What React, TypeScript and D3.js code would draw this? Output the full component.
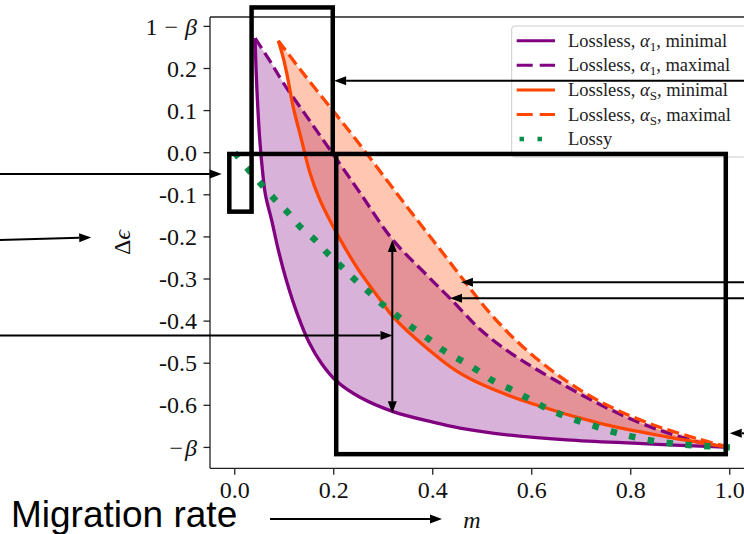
import React from "react";
import * as d3 from "d3";

// m (migration rate) vs Δϵ
const xTicks = [0, 0.2, 0.4, 0.6, 0.8, 1.0];
const yTicks = [0.3, 0.2, 0.1, 0.0, -0.1, -0.2, -0.3, -0.4, -0.5, -0.6, -0.7];

const alpha1Min: [number, number][] = [
  [0.041, 0.272], [0.043, 0.2], [0.046, 0.12], [0.05, 0.04], [0.055, -0.03],
  [0.062, -0.1], [0.0745, -0.16], [0.088, -0.231], [0.106, -0.31], [0.128, -0.388],
  [0.15, -0.45], [0.175, -0.5], [0.206, -0.543], [0.253, -0.581], [0.32, -0.615],
  [0.4, -0.64], [0.455, -0.654], [0.55, -0.67], [0.671, -0.682], [0.805, -0.69],
  [0.9, -0.695], [1.0, -0.7],
];
const alpha1Max: [number, number][] = [
  [0.041, 0.272], [0.07, 0.22], [0.098, 0.166], [0.146, 0.085], [0.193, 0.006],
  [0.25, -0.09], [0.318, -0.205], [0.389, -0.292], [0.435, -0.346], [0.496, -0.42],
  [0.549, -0.469], [0.603, -0.51], [0.671, -0.556], [0.738, -0.598], [0.805, -0.635],
  [0.873, -0.665], [0.94, -0.688], [1.0, -0.7],
];
const alphaSMin: [number, number][] = [
  [0.088, 0.266], [0.097, 0.23], [0.105, 0.189], [0.118, 0.109], [0.135, 0.03],
  [0.152, -0.048], [0.172, -0.112], [0.206, -0.191], [0.246, -0.271], [0.293, -0.348],
  [0.32, -0.39], [0.401, -0.477], [0.45, -0.52], [0.502, -0.552], [0.603, -0.597],
  [0.738, -0.643], [0.873, -0.675], [1.0, -0.7],
];
const alphaSMax: [number, number][] = [
  [0.088, 0.266], [0.132, 0.198], [0.186, 0.118], [0.239, 0.04], [0.307, -0.065],
  [0.36, -0.147], [0.415, -0.23], [0.462, -0.302], [0.509, -0.372], [0.563, -0.44],
  [0.617, -0.496], [0.671, -0.543], [0.724, -0.582], [0.785, -0.618], [0.859, -0.652],
  [0.94, -0.681], [1.0, -0.7],
];
const lossy: [number, number][] = [
  [0, 0], [0.031, -0.045], [0.055, -0.077], [0.081, -0.111], [0.108, -0.143],
  [0.132, -0.176], [0.162, -0.207], [0.189, -0.241], [0.216, -0.271], [0.243, -0.302],
  [0.273, -0.333], [0.3, -0.362], [0.331, -0.39], [0.361, -0.417], [0.395, -0.445],
  [0.421, -0.469], [0.455, -0.492], [0.489, -0.516], [0.522, -0.542], [0.556, -0.561],
  [0.59, -0.582], [0.623, -0.603], [0.657, -0.621], [0.694, -0.637], [0.732, -0.651],
  [0.768, -0.664], [0.805, -0.675], [0.843, -0.684], [0.88, -0.69], [0.916, -0.694],
  [0.954, -0.697], [1.0, -0.7],
];

// overlay annotations, in data coordinates: [m0, v0, m1, v1]
const boxes = [
  [0.034, 0.345, 0.198, -0.003],
  [-0.011, -0.003, 0.034, -0.14],
  [0.205, -0.003, 0.992, -0.716],
];
const arrows = [
  [-0.475, -0.0506, -0.0264, -0.0506],
  [-0.475, -0.2074, -0.29, -0.2014],
  [-0.475, -0.434, 0.3187, -0.434],
  [1.03, 0.171, 0.2008, 0.171],
  [1.03, -0.308, 0.457, -0.308],
  [1.03, -0.346, 0.4349, -0.346],
  [1.03, -0.6665, 1.0, -0.6665],
  [0.0712, -0.87, 0.4187, -0.87],
];
const doubleArrows = [[0.3183, -0.2074, 0.3183, -0.619]];

const PURPLE = "#800080";
const ORANGE = "#ff4500";
const GREEN = "#0a8f4a";

const serif = "'Liberation Serif', 'Times New Roman', serif";

const x = d3.scaleLinear().domain([-0.05, 1.05]).range([210, 754.5]);
const y = d3.scaleLinear().domain([-0.7496, 0.3223]).range([468.3, 17]);

const line = d3
  .line<[number, number]>()
  .x((d) => x(d[0]))
  .y((d) => y(d[1]))
  .curve(d3.curveCatmullRom);

function band(upper: [number, number][], lower: [number, number][]) {
  const a = line(upper) as string;
  const b = line([...lower].reverse()) as string;
  return a + "L" + b.slice(1) + "Z";
}

function head(x1: number, y1: number, x2: number, y2: number) {
  const L = 12, w = 4.5;
  const ang = Math.atan2(y2 - y1, x2 - x1);
  const bx = x2 - L * Math.cos(ang), by = y2 - L * Math.sin(ang);
  const px = -Math.sin(ang) * w, py = Math.cos(ang) * w;
  return {
    bx, by,
    pts: `${x2},${y2} ${bx + px},${by + py} ${bx - px},${by - py}`,
  };
}

function yLabel(v: number) {
  if (Math.abs(v - 0.3) < 1e-9)
    return (
      <>
        1<tspan dx={7}>−</tspan>
        <tspan dx={7} fontStyle="italic">β</tspan>
      </>
    );
  if (Math.abs(v + 0.7) < 1e-9)
    return (
      <>
        −<tspan dx={2} fontStyle="italic">β</tspan>
      </>
    );
  return d3.format(".1f")(v).replace("−", "-");
}

const legendItems = [
  { sub: "1", kind: "minimal", color: PURPLE, dash: "none" },
  { sub: "1", kind: "maximal", color: PURPLE, dash: "16,7" },
  { sub: "S", kind: "minimal", color: ORANGE, dash: "none" },
  { sub: "S", kind: "maximal", color: ORANGE, dash: "16,7" },
];

export default function App() {
  const spine = "#222";
  return (
    <svg
      width={744}
      height={534}
      style={{ position: "absolute", left: 0, top: 0, background: "#fff" }}
    >
      {/* fills */}
      <path d={band(alpha1Max, alpha1Min)} fill={PURPLE} fillOpacity={0.3} />
      <path d={band(alphaSMax, alphaSMin)} fill={ORANGE} fillOpacity={0.3} />

      {/* lines */}
      <path d={line(alpha1Min) as string} fill="none" stroke={PURPLE} strokeWidth={3.3} />
      <path d={line(alpha1Max) as string} fill="none" stroke={PURPLE} strokeWidth={3.3} strokeDasharray="12,5.5" />
      <path d={line(alphaSMin) as string} fill="none" stroke={ORANGE} strokeWidth={3.3} />
      <path d={line(alphaSMax) as string} fill="none" stroke={ORANGE} strokeWidth={3.3} strokeDasharray="12,5.5" />
      <path d={line(lossy) as string} fill="none" stroke={GREEN} strokeWidth={6.5} strokeDasharray="6.5,12.5" />

      {/* spines */}
      <line x1={210} x2={744} y1={17} y2={17} stroke={spine} strokeWidth={1.3} />
      <line x1={210} x2={210} y1={17} y2={468.3} stroke={spine} strokeWidth={1.3} />
      <line x1={210} x2={744} y1={468.3} y2={468.3} stroke={spine} strokeWidth={1.3} />

      {/* y ticks */}
      {yTicks.map((v) => (
        <g key={"y" + v}>
          <line x1={203.5} x2={210} y1={y(v)} y2={y(v)} stroke={spine} strokeWidth={1.3} />
          <text
            x={197}
            y={y(v)}
            dy="0.34em"
            textAnchor="end"
            fontFamily={serif}
            fontSize={24}
            fill="#111"
          >
            {yLabel(v)}
          </text>
        </g>
      ))}

      {/* x ticks */}
      {xTicks.map((m) => (
        <g key={"x" + m}>
          <line x1={x(m)} x2={x(m)} y1={468.3} y2={474.8} stroke={spine} strokeWidth={1.3} />
          <text x={x(m)} y={498} textAnchor="middle" fontFamily={serif} fontSize={24} fill="#111">
            {d3.format(".1f")(m)}
          </text>
        </g>
      ))}

      {/* axis labels */}
      <text
        transform="translate(130,242.5) rotate(-90)"
        textAnchor="middle"
        fontFamily={serif}
        fontSize={24}
        fill="#111"
      >
        Δ<tspan fontStyle="italic">ϵ</tspan>
      </text>
      <text x={472} y={528} textAnchor="middle" fontFamily={serif} fontSize={24} fontStyle="italic" fill="#111">
        m
      </text>

      {/* legend */}
      <rect x={511.7} y={26} width={260} height={131} rx={3} fill="#fff" fillOpacity={0.8} stroke="#ccc" strokeWidth={1} />
      {legendItems.map((it, i) => {
        const cy = 40.7 + i * 24.6;
        return (
          <g key={"lg" + i}>
            <line x1={516.7} x2={555} y1={cy} y2={cy} stroke={it.color} strokeWidth={3} strokeDasharray={it.dash} />
            <text x={568} y={cy} dy="0.33em" fontFamily={serif} fontSize={18.5} fill="#222">
              Lossless, <tspan fontStyle="italic">α</tspan>
              <tspan fontSize={13} dy={4}>{it.sub}</tspan>
              <tspan dy={-4}>, {it.kind}</tspan>
            </text>
          </g>
        );
      })}
      <line x1={519.5} x2={555} y1={139.1} y2={139.1} stroke={GREEN} strokeWidth={4.5} strokeDasharray="4.5,13.5" />
      <text x={568} y={139.1} dy="0.33em" fontFamily={serif} fontSize={18.5} fill="#222">
        Lossy
      </text>

      {/* annotation boxes */}
      {boxes.map((b, i) => (
        <rect
          key={"b" + i}
          x={x(b[0])}
          y={y(b[1])}
          width={x(b[2]) - x(b[0])}
          height={y(b[3]) - y(b[1])}
          fill="none"
          stroke="#000"
          strokeWidth={4.5}
        />
      ))}

      {/* arrows */}
      {arrows.map((a, i) => {
        const x1 = x(a[0]), y1 = y(a[1]), x2 = x(a[2]), y2 = y(a[3]);
        const h = head(x1, y1, x2, y2);
        return (
          <g key={"a" + i}>
            <line x1={x1} y1={y1} x2={h.bx} y2={h.by} stroke="#000" strokeWidth={2} />
            <polygon points={h.pts} fill="#000" />
          </g>
        );
      })}
      {doubleArrows.map((a, i) => {
        const x1 = x(a[0]), y1 = y(a[1]), x2 = x(a[2]), y2 = y(a[3]);
        const h1 = head(x1, y1, x2, y2);
        const h2 = head(x2, y2, x1, y1);
        return (
          <g key={"d" + i}>
            <line x1={h2.bx} y1={h2.by} x2={h1.bx} y2={h1.by} stroke="#000" strokeWidth={2} />
            <polygon points={h1.pts} fill="#000" />
            <polygon points={h2.pts} fill="#000" />
          </g>
        );
      })}

      <text x={11} y={527} fontFamily="'Liberation Sans', Arial, sans-serif" fontSize={37} fill="#000">
        Migration rate
      </text>
    </svg>
  );
}
